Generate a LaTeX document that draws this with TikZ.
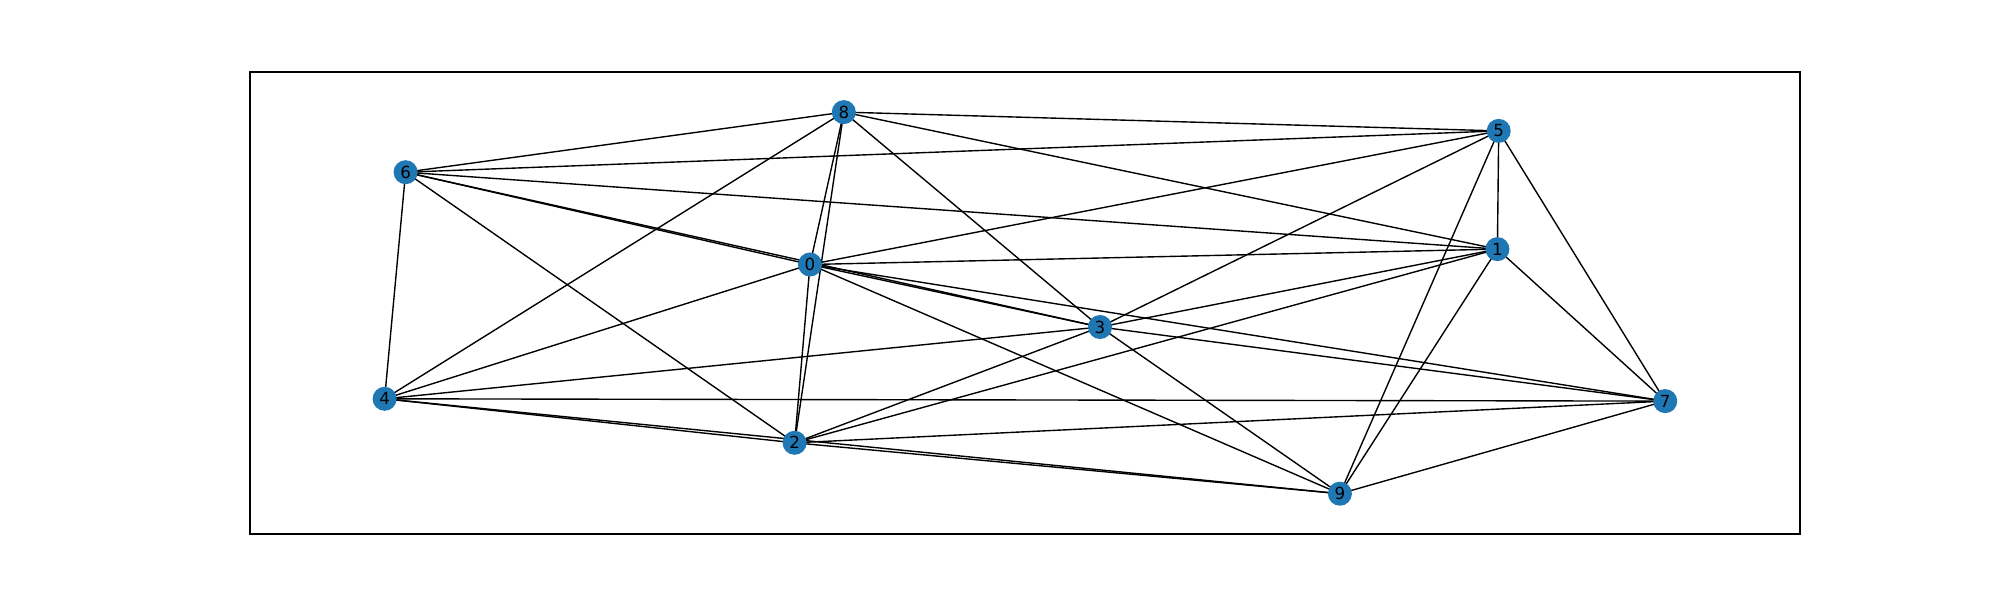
\documentclass[tikz,border=0pt]{standalone}
\usepackage{fontspec}
\setmainfont{DejaVu Sans}
\usetikzlibrary{backgrounds}
\definecolor{nodeblue}{RGB}{31,119,180}
\begin{document}
\begin{tikzpicture}[x=0.72pt,y=-0.72pt,
  vertex/.style={circle,fill=nodeblue,minimum size=17.3pt,inner sep=0pt,font=\fontsize{12}{14}\selectfont,text=black},
  edge/.style={draw=black,line width=1pt}]
\useasboundingbox (0,0) rectangle (2000,600);
\draw[line width=0.8pt] (250,72) rectangle (1800,534);
\node[vertex] (n0) at (810,264.5) {0};
\node[vertex] (n1) at (1497.4,249.1) {1};
\node[vertex] (n2) at (794.6,442.8) {2};
\node[vertex] (n3) at (1100,327) {3};
\node[vertex] (n4) at (384.6,398.8) {4};
\node[vertex] (n5) at (1498.7,130.9) {5};
\node[vertex] (n6) at (405.6,172.2) {6};
\node[vertex] (n7) at (1665.2,401.1) {7};
\node[vertex] (n8) at (843.8,112.1) {8};
\node[vertex] (n9) at (1339.9,493.7) {9};
\begin{scope}[on background layer]
\foreach \a/\b in {0/1,0/2,0/3,0/4,0/5,0/6,0/7,0/8,0/9,
  1/2,1/3,1/5,1/6,1/7,1/8,1/9,
  2/3,2/4,2/6,2/7,2/8,2/9,
  3/4,3/5,3/6,3/7,3/8,3/9,
  4/6,4/7,4/8,4/9,
  5/6,5/7,5/8,5/9,
  6/8,7/9}
  \draw[edge] (n\a.center) -- (n\b.center);
\end{scope}
\end{tikzpicture}
\end{document}
